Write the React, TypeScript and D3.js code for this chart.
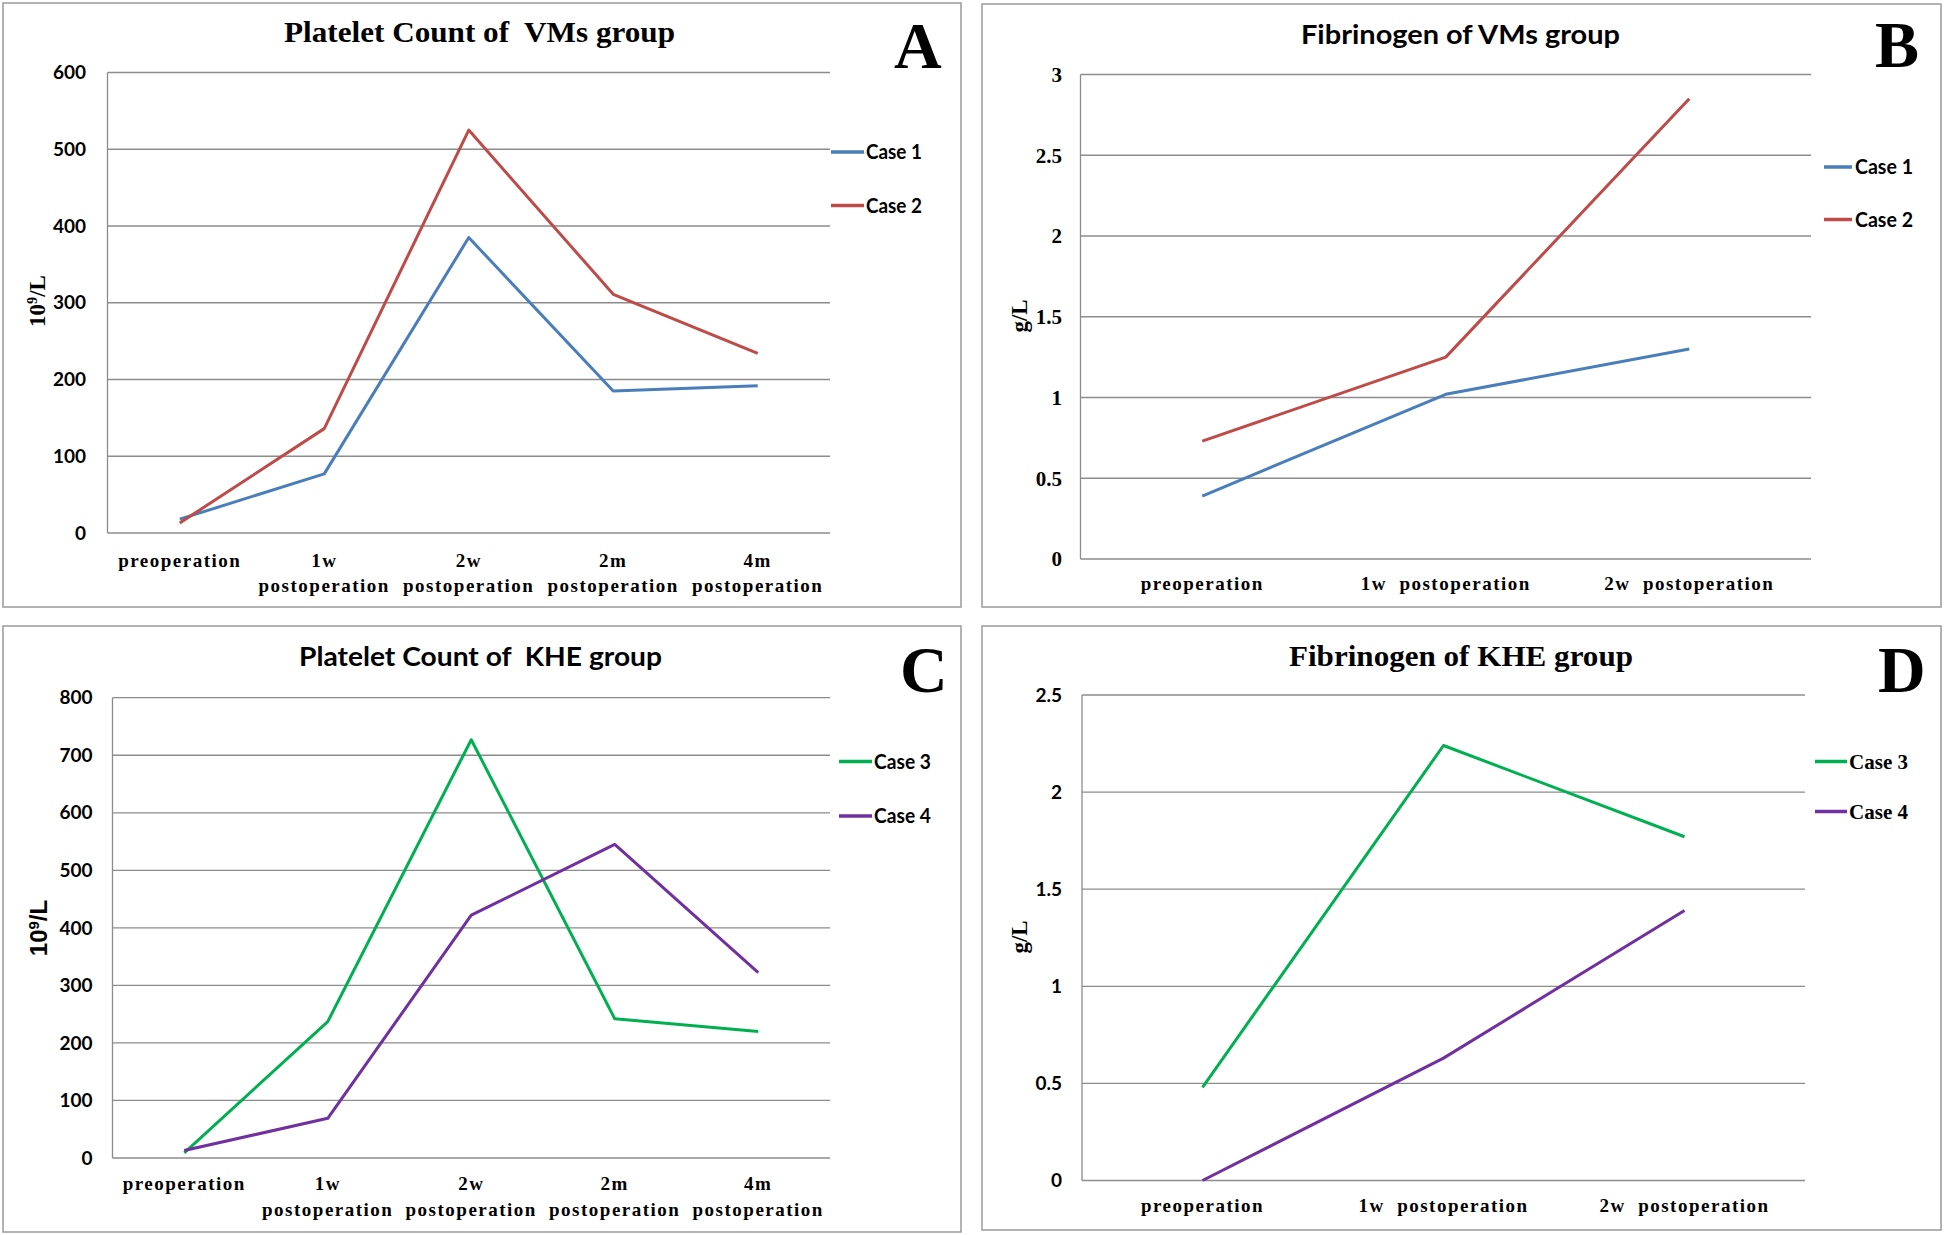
import React from "react";
import * as d3 from "d3";

// ---------- data ----------
const plateletCategories = ["preoperation", "1w postoperation", "2w postoperation", "2m postoperation", "4m postoperation"];
const fibrinogenCategories = ["preoperation", "1w  postoperation", "2w  postoperation"];

const plateletVMsTicks = [0, 100, 200, 300, 400, 500, 600];
const fibrinogenVMsTicks = [0, 0.5, 1, 1.5, 2, 2.5, 3];
const plateletKHETicks = [0, 100, 200, 300, 400, 500, 600, 700, 800];
const fibrinogenKHETicks = [0, 0.5, 1, 1.5, 2, 2.5];

const plateletCase1 = [18, 77, 385, 185, 192];
const plateletCase2 = [13, 136, 525, 311, 234];
const fibrinogenCase1 = [0.39, 1.02, 1.3];
const fibrinogenCase2 = [0.73, 1.25, 2.85];
const plateletCase3 = [9, 237, 727, 242, 220];
const plateletCase4 = [13, 69, 422, 545, 322];
const fibrinogenCase3 = [0.48, 2.24, 1.77];
const fibrinogenCase4 = [0.0, 0.63, 1.39];

const seriesNames = ["Case 1", "Case 2", "Case 3", "Case 4"];
const seriesColors = ["#4A7EBB", "#BE4B48", "#00B050", "#7030A0"];

// ---------- styles ----------
const SERIF = "'Liberation Serif', 'Times New Roman', serif";
const CAL = "Lato, 'Open Sans', sans-serif";
const ARIAL = "'Liberation Sans', Arial, sans-serif";
const GRID = "#8c8c8c";
const BORDER = "#9a9a9a";

type Series = { name: string; color: string; values: number[] };

type PanelCfg = {
  box: [number, number, number, number];
  plot: { left: number; right: number; y0: number; yTop: number };
  max: number;
  ticks: number[];
  categories: string[];
  twoLineLabels: boolean;
  series: Series[];
  title: { text: string; font: string; size: number; cx: number; base: number; width: number };
  letter: { text: string; x: number; base: number };
  ylabel: { main: string; sup?: string; tail?: string; font: string; size: number; cx: number; cy: number };
  tickFont: { font: string; size: number; right: number };
  legend: { x1: number; x2: number; tx: number; ys: number[]; font: string; size: number; widths: number[] };
  xlab: { bases: number[] };
};

function Panel({ c }: { c: PanelCfg }) {
  const x = d3.scaleBand<string>().domain(c.categories).range([c.plot.left, c.plot.right]);
  const y = d3.scaleLinear().domain([0, c.max]).range([c.plot.y0, c.plot.yTop]);
  const cx = (cat: string) => (x(cat) as number) + x.bandwidth() / 2;
  const line = d3
    .line<number>()
    .x((_, i) => cx(c.categories[i]))
    .y((v) => y(v));
  const [bx1, by1, bx2, by2] = c.box;
  return (
    <g>
      <rect x={bx1} y={by1} width={bx2 - bx1} height={by2 - by1} fill="#fff" stroke={BORDER} strokeWidth={1.5} />
      {/* gridlines */}
      {c.ticks.map((t) => (
        <line key={"g" + t} x1={c.plot.left} x2={c.plot.right} y1={y(t)} y2={y(t)} stroke={GRID} strokeWidth={1.3} />
      ))}
      <line x1={c.plot.left} x2={c.plot.left} y1={y(c.max)} y2={y(0)} stroke={GRID} strokeWidth={1.3} />
      {/* tick labels */}
      {c.ticks.map((t) => (
        <text
          key={"t" + t}
          x={c.tickFont.right}
          y={y(t)}
          dy="0.35em"
          textAnchor="end"
          fontFamily={c.tickFont.font}
          fontSize={c.tickFont.size}
          fontWeight="bold"
          fill="#000"
        >
          {String(t)}
        </text>
      ))}
      {/* category labels */}
      {c.categories.map((cat) => {
        const lines = c.twoLineLabels && cat.includes(" ") ? cat.split(" ") : [cat];
        return lines.map((ln, li) => (
          <text
            key={cat + li}
            x={cx(cat)}
            y={c.xlab.bases[li]}
            textAnchor="middle"
            fontFamily={SERIF}
            fontSize={19}
            fontWeight="bold"
            letterSpacing={1.5}
            style={{ whiteSpace: "pre" }}
            fill="#000"
          >
            {ln}
          </text>
        ));
      })}
      {/* series */}
      {c.series.map((s) => (
        <path key={s.name} d={line(s.values) || ""} fill="none" stroke={s.color} strokeWidth={3} strokeLinejoin="round" />
      ))}
      {/* legend */}
      {c.series.map((s, i) => (
        <g key={"l" + s.name}>
          <line x1={c.legend.x1} x2={c.legend.x2} y1={c.legend.ys[i]} y2={c.legend.ys[i]} stroke={s.color} strokeWidth={3.5} />
          <text
            x={c.legend.tx}
            y={c.legend.ys[i]}
            dy="0.35em"
            fontFamily={c.legend.font}
            fontSize={c.legend.size}
            fontWeight="bold"
            textLength={c.legend.widths[i]}
            lengthAdjust="spacingAndGlyphs"
            fill="#000"
          >
            {s.name}
          </text>
        </g>
      ))}
      {/* title */}
      <text
        x={c.title.cx}
        y={c.title.base}
        textAnchor="middle"
        fontFamily={c.title.font}
        fontSize={c.title.size}
        fontWeight="bold"
        textLength={c.title.width}
        lengthAdjust="spacingAndGlyphs"
        style={{ whiteSpace: "pre" }}
        fill="#000"
      >
        {c.title.text}
      </text>
      {/* panel letter */}
      <text x={c.letter.x} y={c.letter.base} fontFamily={SERIF} fontSize={66} fontWeight="bold" fill="#000">
        {c.letter.text}
      </text>
      {/* y label */}
      <text
        transform={`translate(${c.ylabel.cx},${c.ylabel.cy}) rotate(-90)`}
        textAnchor="middle"
        dy="0.35em"
        fontFamily={c.ylabel.font}
        fontSize={c.ylabel.size}
        fontWeight="bold"
        fill="#000"
      >
        {c.ylabel.main}
        {c.ylabel.sup ? (
          <tspan baselineShift="super" fontSize={c.ylabel.size * 0.62}>
            {c.ylabel.sup}
          </tspan>
        ) : null}
        {c.ylabel.tail ? <tspan>{c.ylabel.tail}</tspan> : null}
      </text>
    </g>
  );
}

export default function App() {
  const panels: PanelCfg[] = [
    {
      box: [3, 3, 961, 607],
      plot: { left: 107.5, right: 830, y0: 533, yTop: 72.5 },
      max: 600,
      ticks: plateletVMsTicks,
      categories: plateletCategories,
      twoLineLabels: true,
      series: [
        { name: seriesNames[0], color: seriesColors[0], values: plateletCase1 },
        { name: seriesNames[1], color: seriesColors[1], values: plateletCase2 },
      ],
      title: { text: "Platelet Count of  VMs group", font: SERIF, size: 29, cx: 479.5, base: 42, width: 391 },
      letter: { text: "A", x: 894, base: 68 },
      ylabel: { main: "10", sup: "9", tail: "/L", font: SERIF, size: 23, cx: 37, cy: 301 },
      tickFont: { font: CAL, size: 19, right: 86 },
      legend: { x1: 831, x2: 864, tx: 866, ys: [152, 205.5], font: CAL, size: 20, widths: [56, 56] },
      xlab: { bases: [566.5, 592] },
    },
    {
      box: [982, 4, 1941, 607],
      plot: { left: 1080.5, right: 1811, y0: 559, yTop: 74.5 },
      max: 3,
      ticks: fibrinogenVMsTicks,
      categories: fibrinogenCategories,
      twoLineLabels: false,
      series: [
        { name: seriesNames[0], color: seriesColors[0], values: fibrinogenCase1 },
        { name: seriesNames[1], color: seriesColors[1], values: fibrinogenCase2 },
      ],
      title: { text: "Fibrinogen of VMs group", font: CAL, size: 26, cx: 1460.5, base: 44, width: 319 },
      letter: { text: "B", x: 1875, base: 67 },
      ylabel: { main: "g/L", font: SERIF, size: 23, cx: 1018.5, cy: 316 },
      tickFont: { font: SERIF, size: 21, right: 1062 },
      legend: { x1: 1824, x2: 1852, tx: 1855, ys: [167, 219.5], font: CAL, size: 20, widths: [58, 58] },
      xlab: { bases: [590] },
    },
    {
      box: [3, 626, 961, 1232],
      plot: { left: 112.5, right: 830, y0: 1158, yTop: 697.7 },
      max: 800,
      ticks: plateletKHETicks,
      categories: plateletCategories,
      twoLineLabels: true,
      series: [
        { name: seriesNames[2], color: seriesColors[2], values: plateletCase3 },
        { name: seriesNames[3], color: seriesColors[3], values: plateletCase4 },
      ],
      title: { text: "Platelet Count of  KHE group", font: CAL, size: 26, cx: 480.5, base: 666, width: 363 },
      letter: { text: "C", x: 900, base: 692 },
      ylabel: { main: "10", sup: "9", tail: "/L", font: ARIAL, size: 24, cx: 39, cy: 928 },
      tickFont: { font: CAL, size: 19, right: 92.5 },
      legend: { x1: 839, x2: 872, tx: 874, ys: [761.5, 816], font: CAL, size: 20, widths: [57, 57] },
      xlab: { bases: [1189.5, 1215.5] },
    },
    {
      box: [982, 626, 1941, 1230],
      plot: { left: 1082, right: 1805, y0: 1180.5, yTop: 695 },
      max: 2.5,
      ticks: fibrinogenKHETicks,
      categories: fibrinogenCategories,
      twoLineLabels: false,
      series: [
        { name: seriesNames[2], color: seriesColors[2], values: fibrinogenCase3 },
        { name: seriesNames[3], color: seriesColors[3], values: fibrinogenCase4 },
      ],
      title: { text: "Fibrinogen of KHE group", font: SERIF, size: 29, cx: 1461, base: 666, width: 344 },
      letter: { text: "D", x: 1878, base: 692 },
      ylabel: { main: "g/L", font: SERIF, size: 23, cx: 1018.5, cy: 937 },
      tickFont: { font: CAL, size: 19, right: 1062 },
      legend: { x1: 1815, x2: 1847, tx: 1849, ys: [761.5, 811.5], font: SERIF, size: 20, widths: [59, 59] },
      xlab: { bases: [1212] },
    },
  ];
  return (
    <svg
      width={1946}
      height={1235}
      viewBox="0 0 1946 1235"
      style={{ position: "absolute", left: 0, top: 0, background: "#fff" }}
    >
      <rect x={0} y={0} width={1946} height={1235} fill="#fff" />
      {panels.map((p, i) => (
        <Panel key={i} c={p} />
      ))}
    </svg>
  );
}
